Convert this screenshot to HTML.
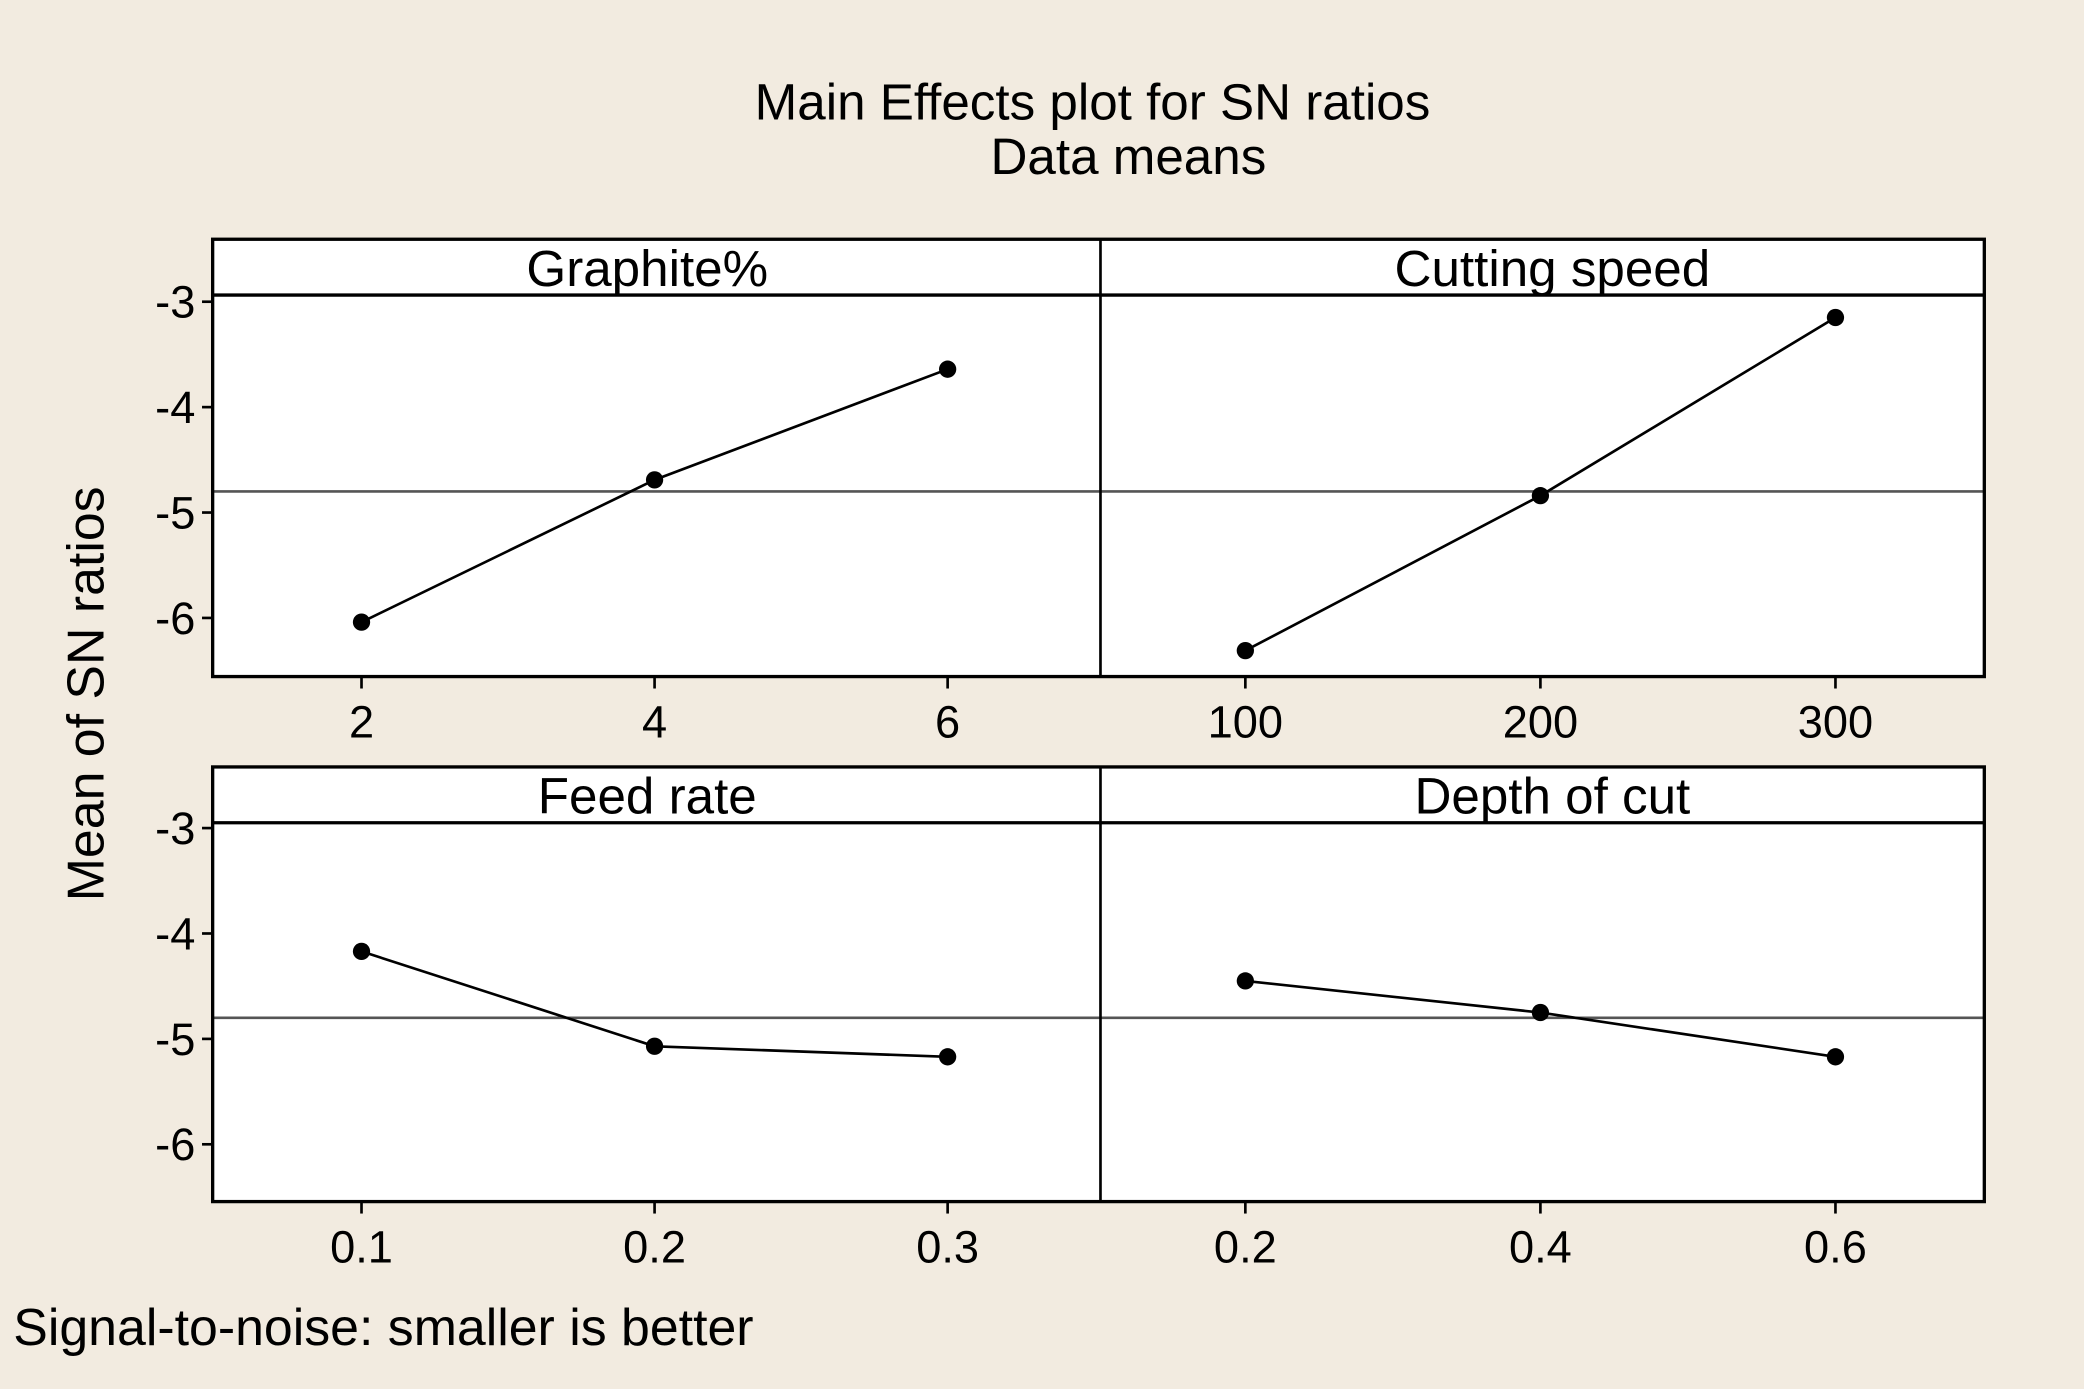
<!DOCTYPE html>
<html><head><meta charset="utf-8"><style>
html,body{margin:0;padding:0;background:#f2ebe0;}
svg{display:block;font-family:"Liberation Sans",sans-serif;}
</style></head><body>
<svg id="c" width="2084" height="1389" viewBox="0 0 1568 1045" preserveAspectRatio="none" xmlns="http://www.w3.org/2000/svg">
<rect width="1568" height="1045" fill="#f2ebe0"/>
<text x="822" y="90" font-size="38.5" text-anchor="middle">Main Effects plot for SN ratios</text>
<text x="849" y="131" font-size="38.5" text-anchor="middle">Data means</text>
<text transform="translate(78,522) rotate(-90)" font-size="39" text-anchor="middle">Mean of SN ratios</text>
<text x="10" y="1012" font-size="39">Signal-to-noise: smaller is better</text>
<g id="g"></g>
</svg>
<script>
const panelTitles = ["Graphite%", "Cutting speed", "Feed rate", "Depth of cut"];
const xLevels = [[2,4,6],[100,200,300],[0.1,0.2,0.3],[0.2,0.4,0.6]];
const xTickLabels = [["2","4","6"],["100","200","300"],["0.1","0.2","0.3"],["0.2","0.4","0.6"]];
const snMeans = [[-6.04,-4.69,-3.64],[-6.31,-4.84,-3.15],[-4.17,-5.07,-5.17],[-4.45,-4.75,-5.17]];
const grandMean = -4.80;
const yTicks = [-3,-4,-5,-6];

const NS="http://www.w3.org/2000/svg";
const g=document.getElementById('g');
function mk(t,a,p){const e=document.createElementNS(NS,t);for(const k in a)e.setAttribute(k,a[k]);(p||g).appendChild(e);return e;}
const rows=[{top:180,strip:222,bot:509,y3:227},{top:577,strip:619,bot:904,y3:623}];
const cols=[{l:160,r:828,tc:487},{l:828,r:1493,tc:1168}];
const unit=79.3;
for(let r=0;r<2;r++){
  const R=rows[r];
  const yS=v=>R.y3+(-3-v)*unit;
  let bg=mk('rect',{x:160,y:R.top,width:1333,height:R.bot-R.top,fill:'#fff'});
  
  
  yTicks.forEach(t=>{
    let ln=mk('line',{x1:152,x2:160,y1:yS(t),y2:yS(t),stroke:'#000','stroke-width':2});
    
    
    let tx=mk('text',{x:147,y:yS(t)+12,'font-size':34,'text-anchor':'end'});
    tx.textContent=String(t);
    
    
  });
  for(let c=0;c<2;c++){
    const i=r*2+c,C=cols[c];
    const lv=xLevels[i];
    const lo=lv[0],hi=lv[2];
    const x0=c==0?272:937,x1=c==0?713:1381;
    const xS=v=>x0+(v-lo)/(hi-lo)*(x1-x0);
    let ml=mk('line',{x1:C.l,x2:C.r,y1:yS(grandMean),y2:yS(grandMean),stroke:'#555','stroke-width':2});
    
    
    let tt=mk('text',{x:C.tc,y:R.strip-7,'font-size':38.5,'text-anchor':'middle'});
    tt.textContent=panelTitles[i];
    
    
    let pts=lv.map((v,k)=>xS(v)+','+yS(snMeans[i][k])).join(' ');
    let pl=mk('polyline',{points:pts,fill:'none',stroke:'#000','stroke-width':2});
    
    
    lv.forEach((v,k)=>{
      let d=mk('circle',{cx:xS(v),cy:yS(snMeans[i][k]),r:6.5,fill:'#000'});
      
      
      let tk=mk('line',{x1:xS(v),x2:xS(v),y1:R.bot,y2:R.bot+9,stroke:'#000','stroke-width':2});
      
      
      let xl=mk('text',{x:xS(v),y:R.bot+46,'font-size':34,'text-anchor':'middle'});
      xl.textContent=xTickLabels[i][k];
      
      
    });
  }
  let fr=mk('rect',{x:160,y:R.top,width:1333,height:R.bot-R.top,fill:'none',stroke:'#000','stroke-width':2.5});
  
  
  let sl=mk('line',{x1:160,x2:1493,y1:R.strip,y2:R.strip,stroke:'#000','stroke-width':2.5});
  
  
  let vl=mk('line',{x1:828,x2:828,y1:R.top,y2:R.bot,stroke:'#000','stroke-width':2});
  
  
}
</script>
</body></html>
